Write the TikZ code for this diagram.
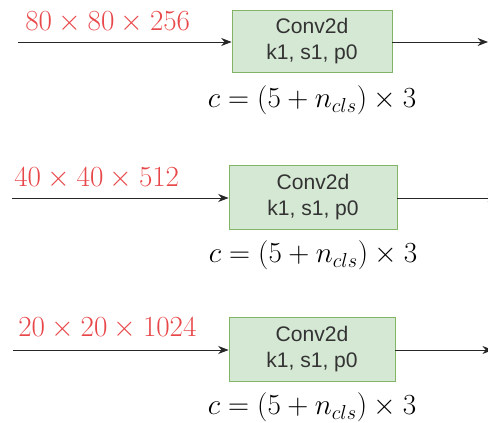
\documentclass[tikz,border=0pt]{standalone}
\usepackage{amsmath}
\usepackage{fontspec}
\newfontfamily\boxfont{Liberation Sans}
\usepackage{tikz}
\usetikzlibrary{positioning, arrows.meta}

\definecolor{convfill}{HTML}{D5E8D4}
\definecolor{convdraw}{HTML}{82B366}
\definecolor{dimred}{HTML}{E8474A}

\begin{document}
\begin{tikzpicture}[
  node distance=0.3cm,
  >={Stealth[length=2.6mm,width=2mm]},
  conv/.style={draw=convdraw, fill=convfill, line width=0.6pt, align=center,
    font=\boxfont\fontsize{15}{19}\selectfont, text=black!80, inner sep=0pt},
  dimlabel/.style={anchor=west, text=dimred, font=\fontsize{19.6}{22}\selectfont, inner sep=0pt},
  formula/.style={font=\fontsize{20.3}{22}\selectfont, inner sep=0pt},
  flow/.style={->, line width=0.6pt, black!85}
]
  \useasboundingbox (0,0) rectangle (12.2,-10.575);

  \node[conv, minimum width=4cm, minimum height=1.55cm] (C1) at (7.8,-1.025) {Conv2d\\k1, s1, p0};
  \node[conv, minimum width=4.2cm, minimum height=1.6cm] (C2) at (7.825,-4.925) {Conv2d\\k1, s1, p0};
  \node[conv, minimum width=4.15cm, minimum height=1.6cm] (C3) at (7.8,-8.725) {Conv2d\\k1, s1, p0};

  \node[dimlabel] (S1) at (0.625,-0.55) {$80\times80\times256$};
  \node[dimlabel] (S2) at (0.35,-4.45) {$40\times40\times512$};
  \node[dimlabel] (S3) at (0.45,-8.22) {$20\times20\times1024$};

  \node[formula, below=0.7cm of C1, anchor=center] (F1) {$c=(5+n_{cls})\times3$};
  \node[formula, below=0.65cm of C2, anchor=center] (F2) {$c=(5+n_{cls})\times3$};
  \node[formula, below=0.65cm of C3, anchor=center] (F3) {$c=(5+n_{cls})\times3$};

  \coordinate (in1) at (0.45,-1.05);
  \coordinate (in2) at (0.3,-4.95);
  \coordinate (in3) at (0.325,-8.75);
  \coordinate (out1) at (12.2,-1.05);
  \coordinate (out2) at (12.45,-4.95);
  \coordinate (out3) at (12.32,-8.75);

  \draw[flow] (in1) -- (C1.west |- in1);
  \draw[flow] (in2) -- (C2.west |- in2);
  \draw[flow] (in3) -- (C3.west |- in3);
  \draw[flow] (C1.east |- out1) -- (out1);
  \draw[flow] (C2.east |- out2) -- (out2);
  \draw[flow] (C3.east |- out3) -- (out3);
\end{tikzpicture}
\end{document}
